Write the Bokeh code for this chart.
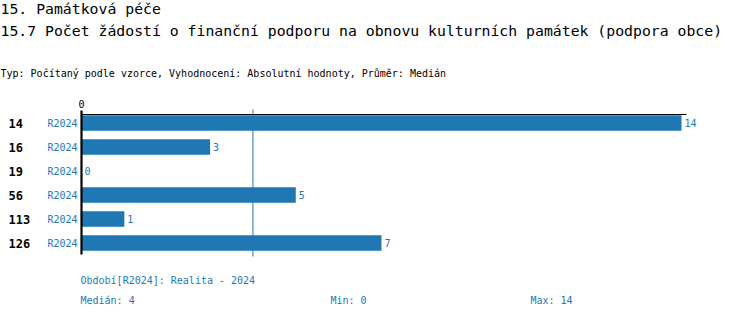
import numpy as np
from bokeh.plotting import figure
from bokeh.models import ColumnDataSource, Range1d, Label
from bokeh.core.properties import value
from bokeh.embed import file_html
from bokeh.resources import INLINE

# ---- data ----
title1 = "15. Památková péče"
title2 = "15.7 Počet žádostí o finanční podporu na obnovu kulturních památek (podpora obce)"
subtitle = "Typ: Počítaný podle vzorce, Vyhodnocení: Absolutní hodnoty, Průměr: Medián"
row_ids = ["14", "16", "19", "56", "113", "126"]
periods = ["R2024", "R2024", "R2024", "R2024", "R2024", "R2024"]
values = [14, 3, 0, 5, 1, 7]
period_note = "Období[R2024]: Realita - 2024"

median_v = float(np.median(values))
min_v = min(values)
max_v = max(values)

# ---- layout ----
W, H = 750, 318
X0 = 81.0            # pixel of value 0
SX = 600.0 / 14.0    # pixels per unit
Y0 = 122.5           # pixel center of first row
SY = 24.0            # pixels per row

BLUE = "#1f77b4"
MONO = "DejaVu Sans Mono"

p = figure(width=W, height=H, output_backend="svg", toolbar_location=None,
           min_border=0, min_border_left=0, min_border_right=0,
           min_border_top=0, min_border_bottom=0)
p.x_range = Range1d(-X0 / SX, (W - X0) / SX)
p.y_range = Range1d((H - Y0) / SY, -Y0 / SY)
p.axis.visible = False
p.grid.visible = False
p.outline_line_color = None
p.background_fill_color = "white"
p.border_fill_color = "white"

def py(pix):
    return (pix - Y0) / SY

rows = list(range(len(values)))
src = ColumnDataSource(dict(y=rows, v=values, ids=row_ids, per=periods,
                            lbl=[str(v) for v in values]))

# bars
p.hbar(y="y", left=0, right="v", height=15.5 / SY, source=src,
       fill_color=BLUE, line_color=None)

# median line
p.segment(x0=[median_v], y0=[py(109)], x1=[median_v], y1=[py(256)],
          line_color=BLUE, line_width=1)

# axes lines
p.segment(x0=[0], y0=[py(114)], x1=[(686 - X0) / SX], y1=[py(114)],
          line_color="black", line_width=1.2)
p.segment(x0=[0], y0=[py(110)], x1=[0], y1=[py(254)],
          line_color="black", line_width=2.2)

# tick label 0
p.text(x=[0], y=[py(103)], text=["0"], text_font=value(MONO), text_font_size="10px",
       text_align="center", text_baseline="middle", text_color="black")

# value labels
p.text(x="v", y="y", text="lbl", source=src, x_offset=3, text_font=value(MONO),
       text_font_size="10px", text_align="left", text_baseline="middle",
       text_color=BLUE)

# row labels
p.text(x=[(8 - X0) / SX] * len(rows), y=rows, text=row_ids, text_font=value(MONO),
       text_font_size="12px", text_font_style="bold", text_align="left",
       text_baseline="middle", text_color="black")
p.text(x=[(77 - X0) / SX] * len(rows), y=rows, text=periods, text_font=value(MONO),
       text_font_size="10px", text_align="right", text_baseline="middle",
       text_color=BLUE)

def lab(x, ypix, t, size, color="black", style="normal"):
    p.add_layout(Label(x=x, y=H - ypix, x_units="screen", y_units="screen", text=t,
                       text_font=MONO, text_font_size=size, text_color=color,
                       text_font_style=style, text_baseline="middle", text_align="left"))

lab(0, 8, title1, "14.8px")
lab(0, 30, title2, "14.8px")
lab(0, 73, subtitle, "10px")
lab(80, 280, period_note, "10px", BLUE)
lab(80, 300, f"Medián: {median_v:g}", "10px", BLUE)
lab(330, 300, f"Min: {min_v}", "10px", BLUE)
lab(530, 300, f"Max: {max_v}", "10px", BLUE)

open("out.html", "w").write(file_html(p, INLINE))
